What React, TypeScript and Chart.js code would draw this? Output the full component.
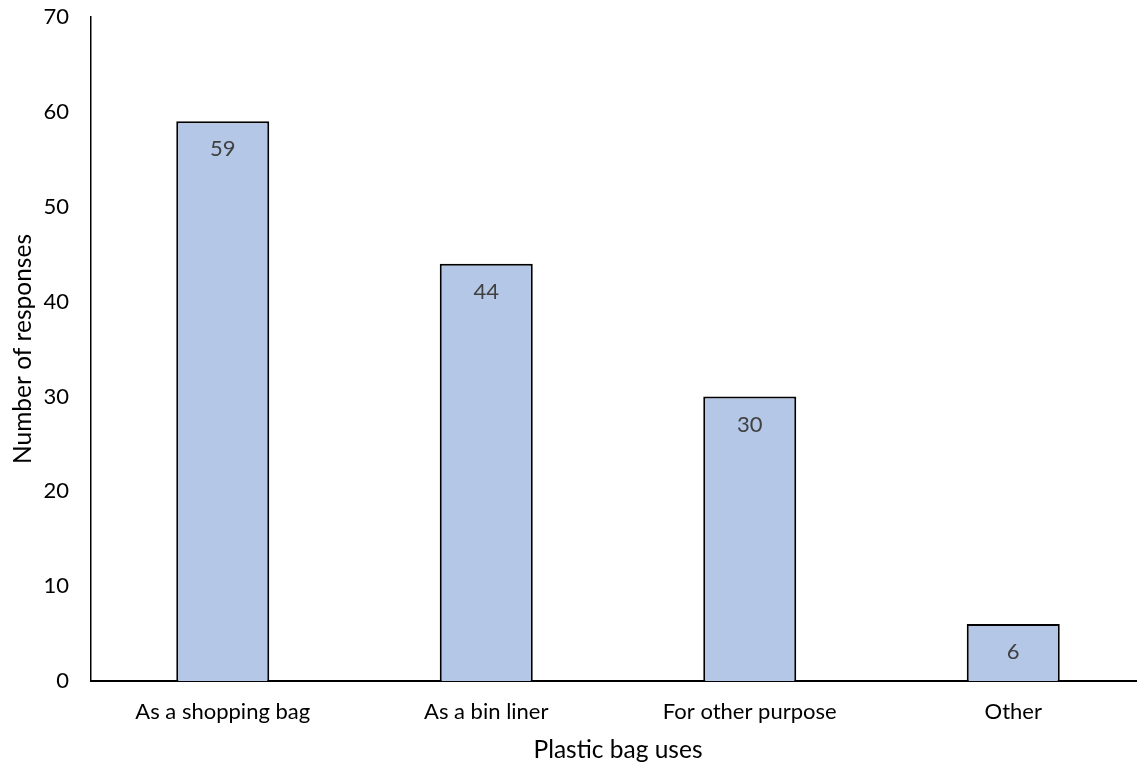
import React, { useEffect, useRef } from "react";
import { Chart, registerables } from "chart.js";

Chart.register(...registerables);

const categories = ["As a shopping bag", "As a bin liner", "For other purpose", "Other"];
const responses = [59, 44, 30, 6];
const yTicks = [0, 10, 20, 30, 40, 50, 60, 70];

const FONT = "Lato, 'Open Sans', sans-serif";
const FS = 22;
const TFS = 24.5;

const valueLabels = {
  id: "valueLabels",
  afterDatasetsDraw(chart: any) {
    const ctx = chart.ctx;
    const meta = chart.getDatasetMeta(0);
    ctx.save();
    ctx.font = `${FS}px ${FONT}`;
    ctx.fillStyle = "#404040";
    ctx.textAlign = "center";
    ctx.textBaseline = "middle";
    meta.data.forEach((bar: any, i: number) => {
      ctx.fillText(String(responses[i]), bar.x, bar.y + 28);
    });
    ctx.restore();
  },
};

export default function App() {
  const ref = useRef<HTMLCanvasElement>(null);
  useEffect(() => {
    if (!ref.current) return;
    const chart = new Chart(ref.current, {
      type: "bar",
      data: {
        labels: categories,
        datasets: [
          {
            data: responses,
            backgroundColor: "#B4C7E7",
            borderColor: "#000000",
            borderWidth: 2,
            borderSkipped: "bottom",
            categoryPercentage: 1,
            barPercentage: 0.353,
          },
        ],
      },
      options: {
        responsive: false,
        animation: false,
        layout: { padding: { top: 17, right: 5, left: 0, bottom: 0 } },
        plugins: {
          legend: { display: false },
          tooltip: { enabled: false },
        },
        scales: {
          x: {
            afterFit: (axis: any) => {
              axis.height = 84;
              axis.paddingLeft = 0;
              axis.paddingRight = 0;
            },
            grid: { display: false },
            border: { display: true, color: "#000000", width: 2 },
            ticks: { color: "#000000", font: { family: FONT, size: FS }, padding: 10 },
            title: {
              display: true,
              text: "Plastic bag uses",
              color: "#000000",
              font: { family: FONT, size: TFS },
              padding: { top: 4, bottom: 0 },
            },
          },
          y: {
            min: 0,
            max: 70,
            afterBuildTicks: (axis: any) => {
              axis.ticks = yTicks.map((v) => ({ value: v }));
            },
            afterFit: (axis: any) => {
              axis.width = 91;
              axis.paddingTop = 0;
              axis.paddingBottom = 0;
            },
            grid: { display: false },
            border: { display: true, color: "#000000", width: 1.5 },
            ticks: { color: "#000000", font: { family: FONT, size: FS }, padding: 14 },
            title: {
              display: true,
              text: "Number of responses",
              color: "#000000",
              font: { family: FONT, size: TFS },
              padding: { top: 8, bottom: 4 },
            },
          },
        },
      },
      plugins: [valueLabels],
    });
    return () => chart.destroy();
  }, []);
  return (
    <div style={{ position: "fixed", left: 0, top: 0, width: 1137, height: 765, overflow: "hidden", background: "#fff" }}>
      <canvas ref={ref} width={1150} height={765} style={{ display: "block" }} />
    </div>
  );
}
